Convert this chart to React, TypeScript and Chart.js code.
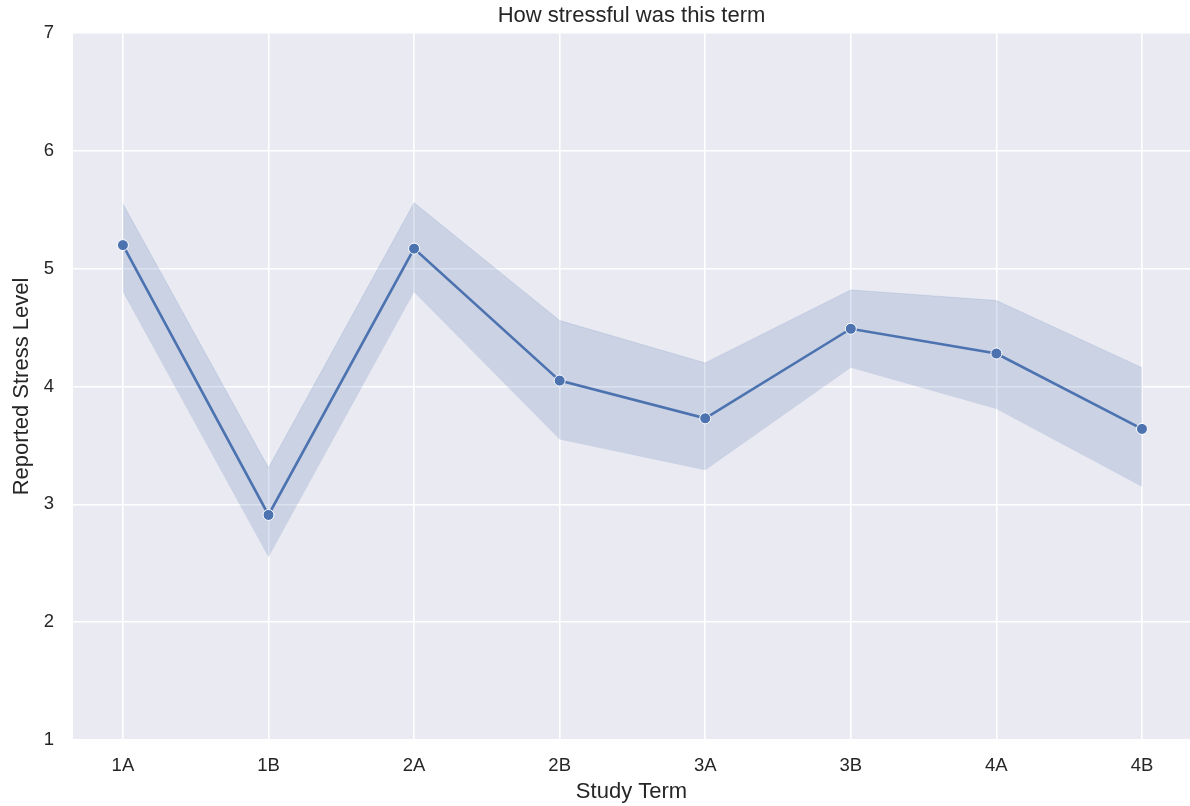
import React, { useEffect, useRef } from "react";
import { Chart, registerables } from "chart.js";

Chart.register(...registerables);

const categories = ["1A", "1B", "2A", "2B", "3A", "3B", "4A", "4B"];
const meanStress = [5.2, 2.91, 5.17, 4.05, 3.73, 4.49, 4.28, 3.64];
const lowerCI = [4.8, 2.55, 4.8, 3.55, 3.29, 4.16, 3.81, 3.15];
const upperCI = [5.55, 3.31, 5.56, 4.56, 4.2, 4.82, 4.73, 4.16];
const yTicks = [1, 2, 3, 4, 5, 6, 7];

const FONT = "'Liberation Sans', Arial, Helvetica, sans-serif";
const TEXT = "#262626";
const LINE = "#4C72B0";
const BAND = "rgba(76,114,176,0.2)";

const bgPlugin = {
  id: "plotBg",
  beforeDraw(chart: any) {
    const { ctx, chartArea } = chart;
    if (!chartArea) return;
    ctx.save();
    ctx.fillStyle = "#EAEAF2";
    ctx.fillRect(chartArea.left, chartArea.top, chartArea.right - chartArea.left, chartArea.bottom - chartArea.top);
    ctx.restore();
  },
};

export default function App() {
  const ref = useRef<HTMLCanvasElement | null>(null);

  useEffect(() => {
    document.body.style.margin = "0";
    const canvas = ref.current;
    if (!canvas) return;
    const pts = (arr: number[]) => arr.map((v, i) => ({ x: i, y: v }));
    const chart = new Chart(canvas, {
      type: "line",
      data: {
        datasets: [
          {
            label: "mean",
            data: pts(meanStress),
            borderColor: LINE,
            borderWidth: 2.6,
            pointRadius: 5.5,
            pointBackgroundColor: LINE,
            pointBorderColor: "#ffffff",
            pointBorderWidth: 1,
            fill: false,
            tension: 0,
          },
          {
            label: "lower",
            data: pts(lowerCI),
            borderColor: "rgba(0,0,0,0)",
            borderWidth: 0,
            pointRadius: 0,
            fill: false,
          },
          {
            label: "upper",
            data: pts(upperCI),
            borderColor: "rgba(76,114,176,0.15)",
            borderWidth: 1,
            pointRadius: 0,
            backgroundColor: BAND,
            fill: 1,
          },
        ],
      },
      options: {
        responsive: false,
        animation: false,
        events: [],
        layout: { padding: 0, autoPadding: false },
        plugins: {
          legend: { display: false },
          tooltip: { enabled: false },
          title: {
            display: true,
            fullSize: false,
            text: "How stressful was this term",
            color: TEXT,
            font: { family: FONT, size: 22, weight: "normal" },
            padding: { top: 2.5, bottom: 4.1 },
          },
        },
        scales: {
          x: {
            type: "linear",
            min: -0.343,
            max: 7.33,
            afterBuildTicks: (scale: any) => {
              scale.ticks = categories.map((_, i) => ({ value: i }));
            },
            afterFit: (scale: any) => {
              scale.height = 66;
              scale.paddingRight = 0;
              scale.paddingLeft = 0;
            },
            ticks: {
              callback: (v: any) => categories[v as number] ?? "",
              color: TEXT,
              font: { family: FONT, size: 18.5 },
              padding: 15,
              maxRotation: 0,
              autoSkip: false,
            },
            grid: { color: "#ffffff", lineWidth: 1.6, drawTicks: false },
            border: { display: false },
            title: {
              display: true,
              text: "Study Term",
              color: TEXT,
              font: { family: FONT, size: 22 },
              padding: { top: 0, bottom: 1 },
            },
          },
          y: {
            type: "linear",
            min: 1,
            max: 7,
            afterBuildTicks: (scale: any) => {
              scale.ticks = yTicks.map((v) => ({ value: v }));
            },
            afterFit: (scale: any) => {
              scale.width = 73;
            },
            ticks: {
              color: TEXT,
              font: { family: FONT, size: 18.5 },
              padding: 19,
            },
            grid: { color: "#ffffff", lineWidth: 1.6, drawTicks: false },
            border: { display: false },
            title: {
              display: true,
              text: "Reported Stress Level",
              color: TEXT,
              font: { family: FONT, size: 22 },
              padding: { top: 9, bottom: 0 },
            },
          },
        },
      },
      plugins: [bgPlugin],
    });
    return () => chart.destroy();
  }, []);

  return <canvas ref={ref} width={1190} height={806} style={{ display: "block" }} />;
}
